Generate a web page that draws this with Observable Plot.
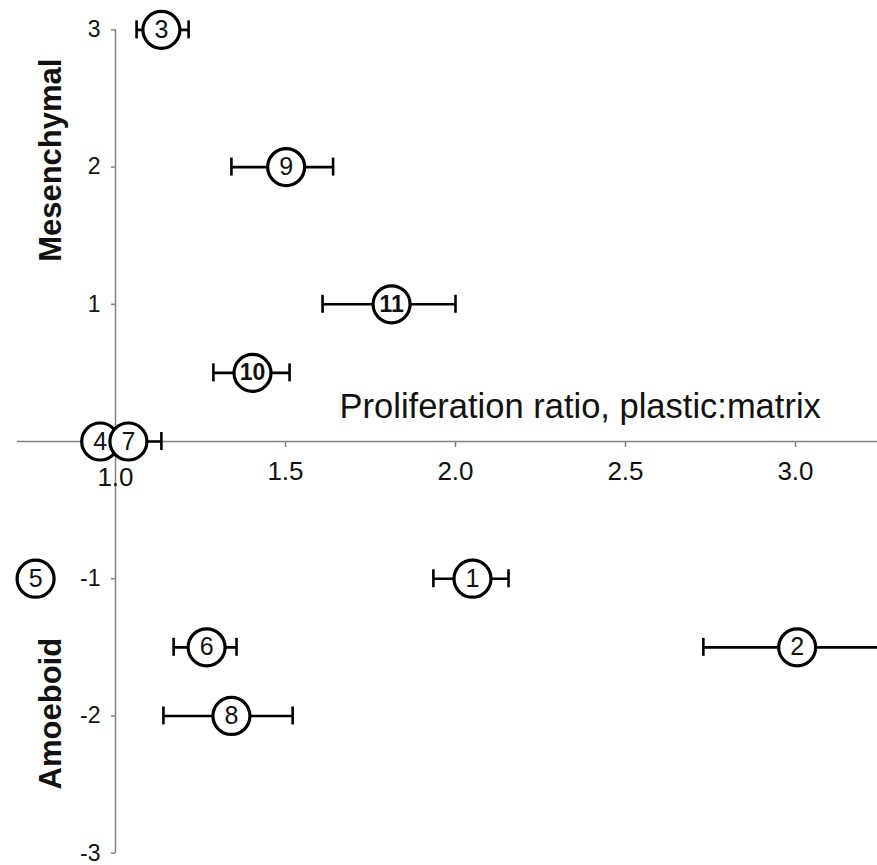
<!DOCTYPE html>
<html>
<head>
<meta charset="utf-8">
<script src="https://cdn.jsdelivr.net/npm/d3@7"></script>
<script src="https://cdn.jsdelivr.net/npm/@observablehq/plot@0.6"></script>
<style>
  html, body { margin: 0; padding: 0; background: #fff; }
  #chart svg { display: block; }
</style>
</head>
<body>
<div id="chart"></div>
<script>
// ---- data ----
const pointIds  = ["1", "2", "3", "4", "5", "6", "7", "8", "9", "10", "11"];
const ratio     = [2.05, 3.005, 1.135, 0.955, 0.765, 1.268, 1.038, 1.341, 1.502, 1.403, 1.812];
const modeScore = [-1, -1.5, 3, 0, -1, -1.5, 0, -2, 2, 0.5, 1];
const ratioLow  = [1.935, 2.729, 1.062, null, null, 1.171, 0.941, 1.141, 1.341, 1.288, 1.609];
const ratioHigh = [2.156, 3.28, 1.215, null, null, 1.356, 1.135, 1.521, 1.640, 1.512, 2.0];

const yTicks = [-3, -2, -1, 1, 2, 3];
const xTicks = [1.5, 2.0, 2.5, 3.0];
const xTickLabels = [1.0, 1.5, 2.0, 2.5, 3.0];
const xTitle = "Proliferation ratio, plastic:matrix";
const yTitleTop = "Mesenchymal";
const yTitleBottom = "Amoeboid";

const data = pointIds.map((id, i) => ({
  id, x: ratio[i], y: modeScore[i], lo: ratioLow[i], hi: ratioHigh[i]
}));
const bars = data.filter(d => d.lo != null && d.hi != null);
const caps = bars.flatMap(d => [{ x: d.lo, y: d.y }, { x: d.hi, y: d.y }]);

const font = "'Liberation Sans', Arial, Helvetica, sans-serif";
const axisColor = "#808080";
const yUnitPx = 865 / (3.214 + 3.090);

const chart = Plot.plot({
  width: 877,
  height: 865,
  marginTop: 0, marginRight: 0, marginBottom: 0, marginLeft: 0,
  style: { fontFamily: font, background: "#fff", overflow: "hidden" },
  x: { domain: [0.6618, 3.2412], axis: null },
  y: { domain: [-3.090, 3.214], axis: null },
  marks: [
    // axes crossing at (1, 0)
    Plot.ruleY([0], { x1: 0.712, x2: 3.2412, stroke: axisColor, strokeWidth: 1.5 }),
    Plot.ruleX([1], { y1: -3, y2: 3, stroke: axisColor, strokeWidth: 1.5 }),
    // y ticks
    Plot.ruleY(yTicks, { y: d => d, x1: 1 - 4 / 340, x2: 1, stroke: axisColor, strokeWidth: 1.5 }),
    Plot.text(yTicks, { y: d => d, x: 1, dx: -15, text: d => String(d), textAnchor: "end",
      lineAnchor: "middle", fontSize: 23, fill: "#111" }),
    // x ticks
    Plot.ruleX(xTicks, { x: d => d, y1: 0, y2: -6 / yUnitPx, stroke: axisColor, strokeWidth: 1.5 }),
    Plot.text(xTickLabels.filter(d => d !== 1), { x: d => d, y: 0, dy: 30, text: d => d3.format(".1f")(d),
      lineAnchor: "middle", fontSize: 26, fill: "#111" }),
    Plot.text(xTickLabels.filter(d => d === 1), { x: d => d, y: 0, dy: 36, text: d => d3.format(".1f")(d),
      lineAnchor: "middle", fontSize: 26, fill: "#111" }),
    // titles
    Plot.text([xTitle], { x: 1.659, y: 0, dy: -24, text: d => d, textAnchor: "start",
      lineAnchor: "bottom", fontSize: 34.5, fill: "#111" }),
    Plot.text([yTitleTop], { frameAnchor: "left", y: 2.05, dx: 60, text: d => d, rotate: -90,
      textAnchor: "middle", lineAnchor: "bottom", fontSize: 31, fontWeight: "bold", fill: "#111" }),
    Plot.text([yTitleBottom], { frameAnchor: "left", y: -1.983, dx: 60, text: d => d, rotate: -90,
      textAnchor: "middle", lineAnchor: "bottom", fontSize: 31, fontWeight: "bold", fill: "#111" }),
    // error bars
    Plot.link(bars, { x1: "lo", x2: "hi", y1: "y", y2: "y", stroke: "#000", strokeWidth: 2.6 }),
    Plot.ruleX(caps, { x: "x", y1: d => d.y - 9 / yUnitPx, y2: d => d.y + 9 / yUnitPx,
      stroke: "#000", strokeWidth: 2.6 }),
    // points
    Plot.dot(data, { x: "x", y: "y", r: 18.5, fill: "#fff", stroke: "#000", strokeWidth: 3.2 }),
    Plot.text(data.filter(d => d.id.length === 1), { x: "x", y: "y", text: "id", fontSize: 25,
      lineAnchor: "middle", fill: "#111" }),
    Plot.text(data.filter(d => d.id.length > 1), { x: "x", y: "y", text: "id", fontSize: 23,
      fontWeight: "bold", lineAnchor: "middle", fill: "#111" })
  ]
});
document.getElementById("chart").appendChild(chart);
</script>
</body>
</html>
